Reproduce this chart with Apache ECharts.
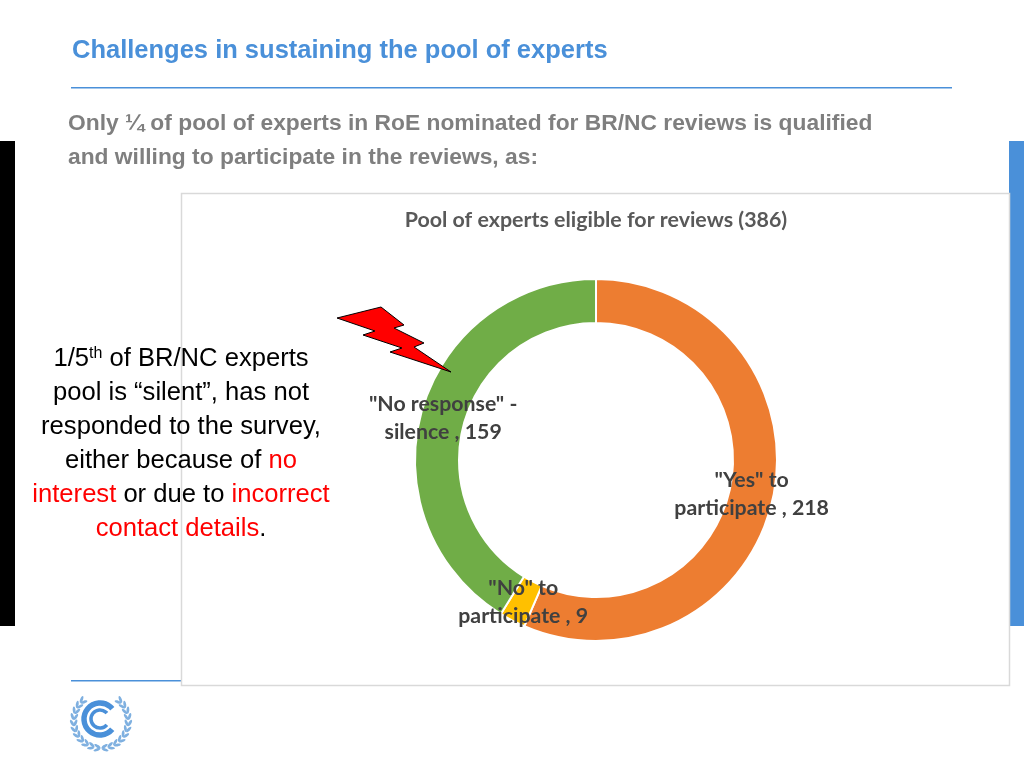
<!DOCTYPE html>
<html>
<head>
<meta charset="utf-8">
<title>Challenges in sustaining the pool of experts</title>
<style>
html,body{margin:0;padding:0;background:#fff}
#main{width:1024px;height:768px}
</style>
<script src="https://cdn.jsdelivr.net/npm/echarts@6/dist/echarts.min.js"></script>
</head>
<body>
<div id="main"></div>
<script>
var categories = ['"Yes" to\nparticipate', '"No" to\nparticipate', '"No response" -\nsilence'];
var values = [218, 9, 159];
var colors = ['#ed7d31', '#ffc000', '#70ad47'];
var chartTitle = 'Pool of experts eligible for reviews (386)';
var heading = 'Challenges in sustaining the pool of experts';
var intro = ['Only \u00bc of pool of experts in RoE nominated for BR/NC reviews is qualified', 'and willing to participate in the reviews, as:'];

var BLACK = '#000', BLUE = '#4a90d9', GRAY = '#7f7f7f', RED = '#ff0000';
var sans = '"Liberation Sans", Arial, sans-serif';

var chart = echarts.init(document.getElementById('main'));

// nudges for the slice labels, same order as categories
var labelOffsets = [[-3, 1], [2, -2], [3, 2]];

// note text, one entry per line, parts get rich styles
var noteRich = {
    k: {fill: BLACK, font: '25.6px ' + sans},
    r: {fill: RED, font: '25.6px ' + sans},
    s: {fill: BLACK, font: '16px ' + sans, verticalAlign: 'top', lineHeight: 25}
};
var noteLines = [
    '{k|1/5}{s|th}{k| of BR/NC experts}',
    '{k|pool is \u201csilent\u201d, has not}',
    '{k|responded to the survey,}',
    '{k|either because of }{r|no}',
    '{r|interest}{k| or due to }{r|incorrect}',
    '{r|contact details}{k|.}'
];

function rect(x, y, w, h, fill, z) {
    return {type: 'rect', z: z || 0, silent: true, shape: {x: x, y: y, width: w, height: h}, style: {fill: fill}};
}

var furniture = [
    rect(0, 141, 15, 485, BLACK),
    rect(1009, 141, 15, 485, BLUE),
    rect(71, 87, 881, 1.5, BLUE),
    rect(71, 680, 111, 1.5, BLUE),
    {type: 'rect', z: 1, silent: true, shape: {x: 181.5, y: 193.5, width: 828, height: 492},
        style: {fill: '#fff', stroke: '#d9d9d9', lineWidth: 1.5}},
    {type: 'text', z: 5, silent: true, x: 72, y: 50.5, style: {text: heading, fill: BLUE, font: 'bold 25.5px ' + sans, verticalAlign: 'middle'}},
    {type: 'text', z: 5, silent: true, x: 68, y: 124, style: {text: intro[0], fill: GRAY, font: 'bold 22.8px ' + sans, verticalAlign: 'middle'}},
    {type: 'text', z: 5, silent: true, x: 68, y: 158, style: {text: intro[1], fill: GRAY, font: 'bold 22.8px ' + sans, verticalAlign: 'middle'}},
    // lightning bolt
    {type: 'polygon', z: 6, silent: true, shape: {points: [
        [337, 318], [381, 307], [404, 325], [394, 328], [424, 343], [414, 347], [451, 372], [390, 352], [402, 348], [363, 335], [375, 331]
    ]}, style: {fill: '#ff0000', stroke: '#000', lineWidth: 1}}
];

noteLines.forEach(function (line, i) {
    furniture.push({type: 'text', z: 7, silent: true, x: 181, y: 358.5 + i * 34,
        style: {text: line, rich: noteRich, align: 'center', verticalAlign: 'middle'}});
});

// logo: two open rings and a laurel made of small leaves
var logoX = 100, logoY = 719;
[[16, 5.5], [9, 3.5]].forEach(function (r) {
    furniture.push({type: 'arc', z: 3, silent: true,
        shape: {cx: logoX, cy: logoY, r: r[0], startAngle: 0.7, endAngle: -0.7, clockwise: true},
        style: {stroke: BLUE, fill: 'none', lineWidth: r[1]}});
});
[-1, 1].forEach(function (side) {
    for (var a = 0; a < 11; a++) {
        var t = (-48 + a * 13) * Math.PI / 180;
        [[25.5, -0.45], [29, 0.45]].forEach(function (row) {
            furniture.push({type: 'ellipse', z: 3, silent: true,
                x: 101 + side * row[0] * Math.cos(t), y: 721 + row[0] * Math.sin(t),
                rotation: -side * (t + row[1]),
                shape: {cx: 0, cy: 0, rx: 1.4, ry: 3.6},
                style: {fill: '#7fb0e0'}});
        });
    }
});

chart.setOption({
    animation: false,
    backgroundColor: '#fff',
    title: {
        text: chartTitle, left: 591, top: 205, textAlign: 'center',
        textStyle: {fontFamily: 'Lato', fontWeight: 'bold', fontSize: 21.4, color: '#595959'}
    },
    graphic: furniture,
    series: [{
        type: 'pie',
        z: 4,
        center: [596, 460],
        radius: [137, 181],
        startAngle: 90,
        clockwise: true,
        itemStyle: {borderColor: '#fff', borderWidth: 2},
        label: {
            show: true, position: 'inside', formatter: '{b} , {c}',
            fontFamily: 'Lato', fontWeight: 'bold', fontSize: 21.3, lineHeight: 28, color: '#404040', align: 'center'
        },
        labelLine: {show: false},
        emphasis: {disabled: true},
        data: categories.map(function (name, i) {
            return {name: name, value: values[i], itemStyle: {color: colors[i]}, label: {offset: labelOffsets[i]}};
        })
    }]
});
</script>
</body>
</html>
